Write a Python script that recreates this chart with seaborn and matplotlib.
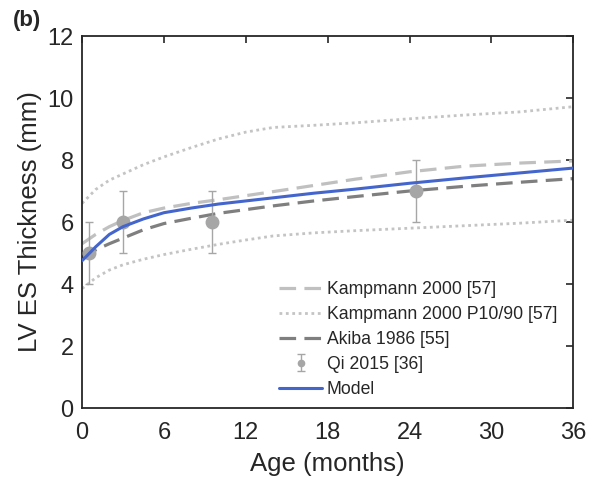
import matplotlib
matplotlib.use("Agg")
import matplotlib.pyplot as plt
import seaborn as sns
import numpy as np
import pandas as pd

ages = [0, 1, 2, 3, 4.5, 6, 8, 10, 12, 14, 17, 20, 24, 28, 32, 36]
model = [4.75, 5.2, 5.6, 5.85, 6.1, 6.3, 6.45, 6.58, 6.68, 6.78, 6.93, 7.06, 7.25, 7.42, 7.58, 7.74]
kampmann = [5.3, 5.6, 5.85, 6.05, 6.3, 6.45, 6.6, 6.72, 6.85, 6.98, 7.18, 7.38, 7.62, 7.8, 7.9, 7.97]
akiba = [4.85, 5.1, 5.3, 5.48, 5.75, 5.95, 6.12, 6.28, 6.4, 6.52, 6.68, 6.82, 7.0, 7.15, 7.28, 7.4]
kamp_p90 = [6.6, 7.05, 7.35, 7.55, 7.85, 8.1, 8.4, 8.68, 8.9, 9.05, 9.12, 9.2, 9.33, 9.45, 9.55, 9.72]
kamp_p10 = [3.85, 4.2, 4.45, 4.62, 4.8, 4.95, 5.12, 5.28, 5.42, 5.55, 5.65, 5.72, 5.8, 5.88, 5.96, 6.06]

qi_age = [0.5, 3.0, 9.5, 24.5]
qi_val = [5.0, 6.0, 6.0, 7.0]
qi_err = [1.0, 1.0, 1.0, 1.0]

xticks = [0, 6, 12, 18, 24, 30, 36]
yticks = [0, 2, 4, 6, 8, 10, 12]

sns.set_style("white")
plt.rcParams['font.family'] = ['Liberation Sans', 'DejaVu Sans']

fig = plt.figure(figsize=(5.99, 4.84), dpi=100)
ax = fig.add_axes([0.137, 0.157, 0.82, 0.7686])

sns.lineplot(x=ages, y=kampmann, ax=ax, color='#c0c0c0', lw=2.3,
             label='Kampmann 2000 [57]', linestyle=(0, (5.2, 2.6)))
sns.lineplot(x=ages, y=kamp_p90, ax=ax, color='#c4c4c4', lw=2.0,
             label='Kampmann 2000 P10/90 [57]', linestyle=(0, (1, 1.3)))
sns.lineplot(x=ages, y=kamp_p10, ax=ax, color='#c4c4c4', lw=2.0,
             linestyle=(0, (1, 1.3)))
sns.lineplot(x=ages, y=akiba, ax=ax, color='#7f7f7f', lw=2.3,
             label='Akiba 1986 [55]', linestyle=(0, (5.2, 2.6)))
ax.errorbar(qi_age, qi_val, yerr=qi_err, fmt='o', color='#a6a6a6', ms=9,
            elinewidth=1.0, capsize=3, capthick=1.0, label='Qi 2015 [36]', zorder=3)
sns.lineplot(x=ages, y=model, ax=ax, color='#4466cc', lw=2.2, label='Model', zorder=4)

ax.set_xlim(0, 36)
ax.set_ylim(0, 12)
ax.set_xticks(xticks)
ax.set_yticks(yticks)
ax.tick_params(direction='in', length=5, width=1.2, top=True, right=True,
               labelsize=17, colors='#262626', pad=6)
ax.tick_params(axis='x', pad=10)
for s in ax.spines.values():
    s.set_linewidth(1.3)
    s.set_color('#262626')
ax.set_xlabel('Age (months)', fontsize=18.5, color='#262626', labelpad=6)
ax.set_ylabel('LV ES Thickness (mm)', fontsize=18.5, color='#262626', labelpad=4)

handles, labels = ax.get_legend_handles_labels()
order = ['Kampmann 2000 [57]', 'Kampmann 2000 P10/90 [57]', 'Akiba 1986 [55]', 'Qi 2015 [36]', 'Model']
hmap = dict(zip(labels, handles))
leg = ax.legend([hmap[l] for l in order], order, loc='lower right', frameon=False,
                fontsize=12.7, handlelength=2.4, handletextpad=0.3, labelspacing=0.45,
                bbox_to_anchor=(1.0, -0.015), markerscale=0.5)

fig.text(0.022, 0.958, '(b)', fontsize=16, fontweight='bold', va='center', ha='left')

fig.savefig('out.png', dpi=100)
